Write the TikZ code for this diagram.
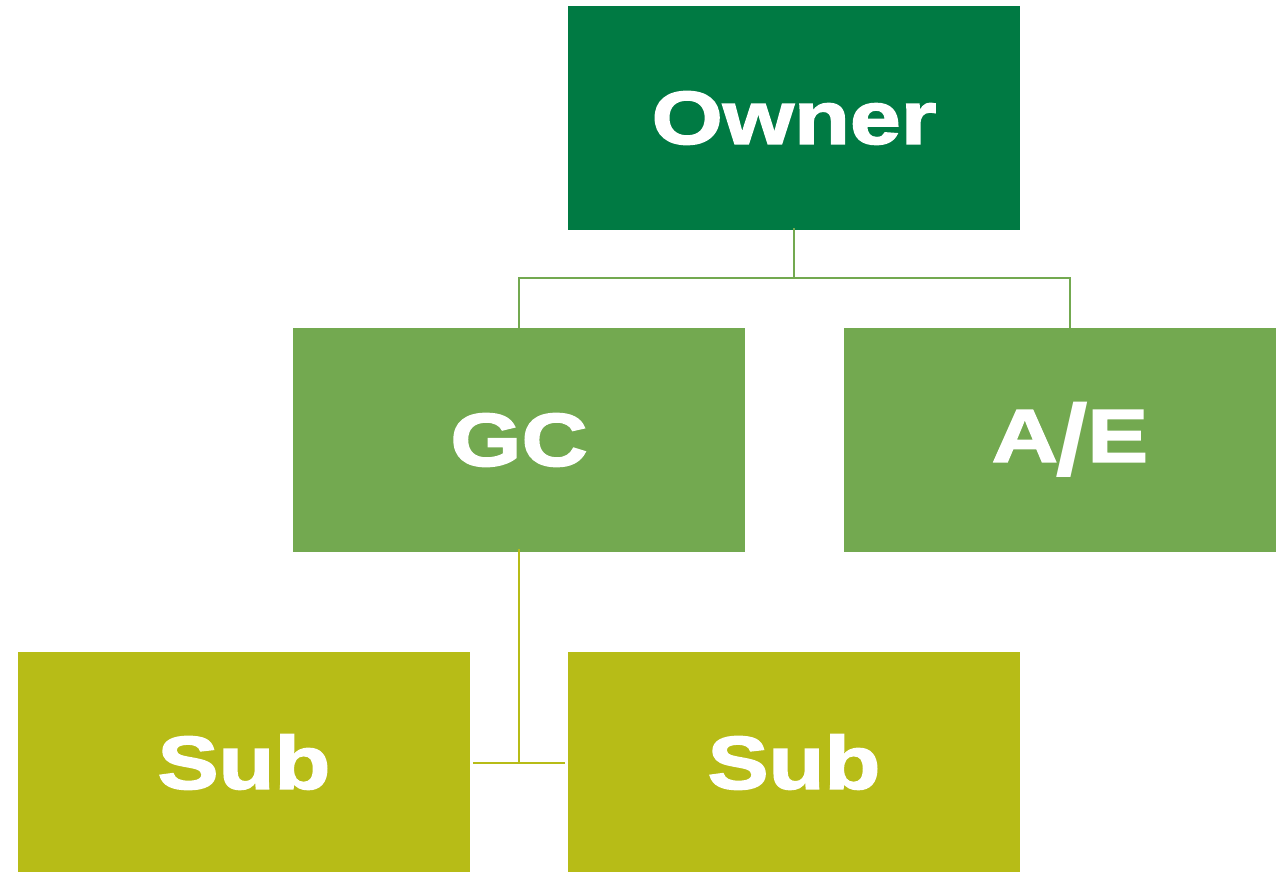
\documentclass[tikz,border=0pt]{standalone}
\usepackage{fontspec}
\newfontfamily\blk{Liberation Sans Bold}[FakeBold=2.2,FakeStretch=1.22]
\newfontfamily\slashfont{Liberation Sans Bold}
\definecolor{ownc}{HTML}{007A43}
\definecolor{midc}{HTML}{73A950}
\definecolor{subc}{HTML}{B7BC17}
\tikzset{
  box/.style={minimum width=452pt,minimum height=224pt,inner sep=0pt,text=white,font=\blk\fontsize{75}{75}\selectfont},
  ownbox/.style={box,fill=ownc},
  midbox/.style={box,fill=midc},
  subbox/.style={box,fill=subc,minimum height=220pt},
  midline/.style={draw=midc,line width=2.8pt},
  subline/.style={draw=subc,line width=2.8pt}
}
\begin{document}
\begin{tikzpicture}[x=1pt,y=-1pt]
\useasboundingbox (0,0) rectangle (1276,872);
\begin{scope}
\clip (0,0) rectangle (1276,872);
\node[ownbox] (own) at (794,118) {Owner};
\node[midbox] (gc) at (519,440) {GC};
\node[midbox] (ae) at (1070,440) {A\kern-2pt\raisebox{-14pt}{\slashfont\scalebox{1.6}[1.35]{/}}\kern-2ptE};
\node[subbox] (s1) at (244,762) {Sub};
\node[subbox] (s2) at (794,762) {Sub};
\end{scope}
\coordinate (j1) at (794,278);
\coordinate (j2) at (519,763);
\draw[midline] ([yshift=2pt]own.south) -- (j1);
\draw[midline] ([yshift=-2pt]gc.north) |- (j1) -| ([yshift=-2pt]ae.north);
\draw[subline] ([yshift=3pt]gc.south) -- (j2);
\draw[subline] ([xshift=3pt]s1.east |- j2) -- ([xshift=-3pt]s2.west |- j2);
\end{tikzpicture}
\end{document}
